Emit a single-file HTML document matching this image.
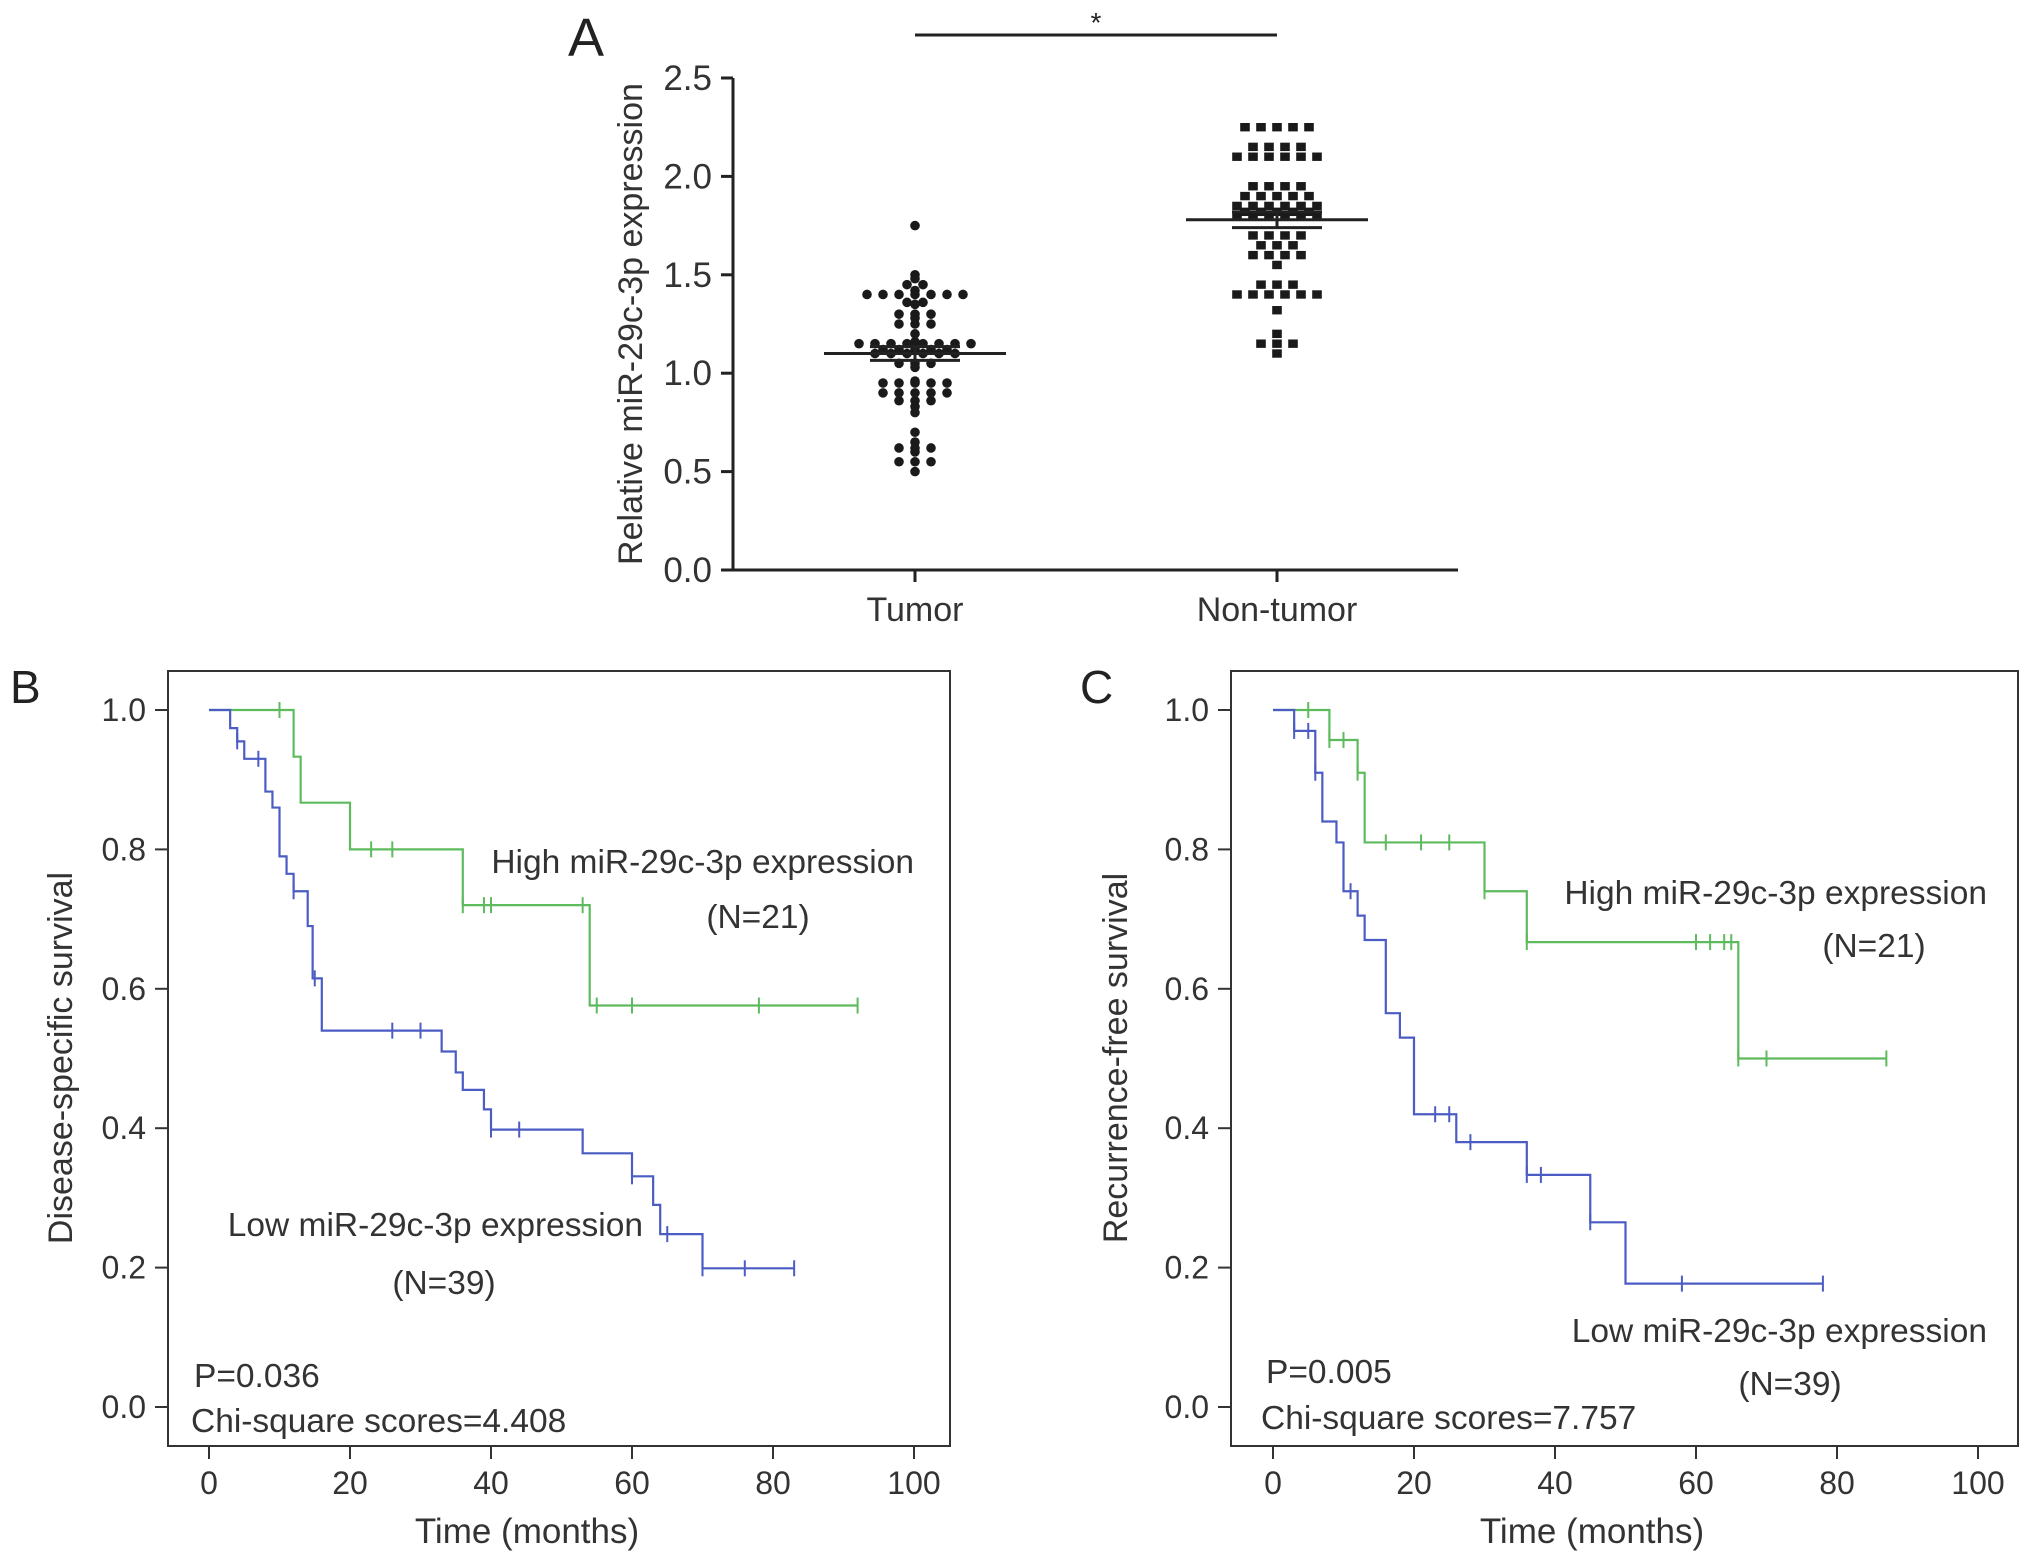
<!DOCTYPE html>
<html><head><meta charset="utf-8"><style>
html,body{margin:0;padding:0;background:#fff;}
svg{display:block;font-family:"Liberation Sans",Arial,sans-serif;}
</style></head><body>
<svg id="fig" width="2032" height="1563" viewBox="0 0 2032 1563" xmlns="http://www.w3.org/2000/svg">
<g id="pa"></g>
<g id="pb"></g>
<g id="pc"></g>
</svg>
<script>
// ---- Panel A data ----
const aCategories = ["Tumor", "Non-tumor"];
const aTicks = ["0.0","0.5","1.0","1.5","2.0","2.5"];
const tumorVals = [1.75,1.50,1.48,1.45,1.45,1.42,1.40,1.40,1.40,1.40,1.40,1.40,1.40,1.36,1.36,1.35,1.30,1.30,1.30,1.28,1.25,1.25,1.25,1.20,1.16,
 1.15,1.15,1.15,1.15,1.15,1.15,1.15,1.15,1.12,1.12,1.12,1.12,1.12,1.10,1.10,1.10,1.10,1.10,1.10,1.05,1.05,1.05,1.03,0.96,
 0.95,0.95,0.95,0.95,0.95,0.90,0.90,0.90,0.90,0.90,0.86,0.86,0.86,0.83,0.80,0.70,0.65,0.62,0.62,0.62,0.60,0.55,0.55,0.55,0.50];
const nonTumorVals = [2.25,2.25,2.25,2.25,2.25,2.15,2.15,2.15,2.15,2.10,2.10,2.10,2.10,2.10,2.10,
 1.95,1.95,1.95,1.95,1.90,1.90,1.90,1.90,1.90,1.85,1.85,1.85,1.85,1.85,1.85,1.82,1.82,1.82,1.82,1.82,
 1.80,1.80,1.80,1.80,1.80,1.80,1.70,1.70,1.70,1.70,1.65,1.65,1.65,1.60,1.60,1.60,1.60,1.55,
 1.45,1.45,1.45,1.40,1.40,1.40,1.40,1.40,1.40,1.32,1.20,1.15,1.15,1.15,1.10];
const aMeans = [1.10, 1.78];
const aSem = [0.035, 0.04];

// ---- Panel B data ----
const bHighT = [0,12,13,20,36,54,92];
const bHighS = [1.0,0.933,0.867,0.80,0.72,0.576,0.576];
const bHighCens = [10,23,26,36,39,40,53,55,60,78,92];
const bLowT = [0,3,4,5,8,9,10,11,12,13,14,14.7,16,33,35,36,39,40,53,60,63,64,70,83];
const bLowS = [1.0,0.974,0.955,0.93,0.883,0.86,0.79,0.765,0.74,0.74,0.69,0.615,0.54,0.51,0.48,0.455,0.427,0.398,0.364,0.331,0.29,0.248,0.199,0.199];
const bLowCens = [4,7,12,15,26,30,40,44,60,65,70,76,83];
// ---- Panel C data ----
const cHighT = [0,8,12,13,30,36,66,87];
const cHighS = [1.0,0.957,0.91,0.81,0.74,0.667,0.50,0.50];
const cHighCens = [5,8,10,12,16,21,25,30,36,60,62,64,65,66,70,87];
const cLowT = [0,3,6,7,9,10,12,13,16,18,20,26,36,45,50,78];
const cLowS = [1.0,0.97,0.91,0.84,0.81,0.74,0.705,0.67,0.565,0.53,0.42,0.38,0.333,0.265,0.177,0.177];
const cLowCens = [3,5,6,11,23,25,28,36,38,45,58,78];
const kmXTicks = [0,20,40,60,80,100];
const kmYTicks = [0.0,0.2,0.4,0.6,0.8,1.0];

const NS="http://www.w3.org/2000/svg";
function mk(parent, tag, attrs, text){
  const e=document.createElementNS(NS,tag);
  for(const k in attrs) e.setAttribute(k,attrs[k]);
  if(text!==undefined) e.textContent=text;
  parent.appendChild(e); return e;
}
const BLACK="#222";
// ---------- Panel A ----------
(function(){
  const g=document.getElementById('pa');
  const x0=733, yB=570, yT=78, xEnd=1458;
  const y=v=>yB-(v/2.5)*(yB-yT);
  const cx=[915,1277];
  let e=mk(g,'text',{x:586,y:56,'font-size':54,fill:BLACK,'text-anchor':'middle'},'A');
  
  
  e=mk(g,'line',{x1:x0,y1:yB,x2:x0,y2:yT,stroke:BLACK,'stroke-width':3});
  
  
  e=mk(g,'line',{x1:x0-2,y1:yB,x2:xEnd,y2:yB,stroke:BLACK,'stroke-width':3});
  
  
  aTicks.forEach(t=>{
    const yy=y(parseFloat(t));
    let l=mk(g,'line',{x1:x0-12,y1:yy,x2:x0,y2:yy,stroke:BLACK,'stroke-width':3});
    
    
    let tx=mk(g,'text',{x:712,y:yy+12,'font-size':35,fill:'#333','text-anchor':'end'},t);
    
    
  });
  aCategories.forEach((c,i)=>{
    let l=mk(g,'line',{x1:cx[i],y1:yB,x2:cx[i],y2:yB+12,stroke:BLACK,'stroke-width':3});
    
    
    let tx=mk(g,'text',{x:cx[i],y:621,'font-size':34,fill:'#333','text-anchor':'middle'},c);
    
    
  });
  e=mk(g,'text',{x:0,y:0,'font-size':34,fill:'#333','text-anchor':'middle',transform:'translate(642,324) rotate(-90)'},'Relative miR-29c-3p expression');
  
  
  e=mk(g,'line',{x1:cx[0],y1:35,x2:cx[1],y2:35,stroke:BLACK,'stroke-width':3});
  
  
  e=mk(g,'text',{x:(cx[0]+cx[1])/2,y:32,'font-size':28,fill:BLACK,'text-anchor':'middle'},'*');
  
  
  [tumorVals,nonTumorVals].forEach((vals,gi)=>{
    const groups={};
    vals.forEach(v=>{const k=v.toFixed(2);(groups[k]=groups[k]||[]).push(v);});
    Object.keys(groups).forEach(k=>{
      const n=groups[k].length;
      groups[k].forEach((v,j)=>{
        const px=cx[gi]+(j-(n-1)/2)*16;
        const py=y(v);
        let m;
        if(gi===0){ m=mk(g,'circle',{cx:px,cy:py,r:4.8,fill:'#1a1a1a'});  }
        else { m=mk(g,'rect',{x:px-4.8,y:py-4.2,width:9.6,height:8.4,fill:'#1a1a1a'});  }
        
      });
    });
    const ym=y(aMeans[gi]);
    let l=mk(g,'line',{x1:cx[gi]-91,y1:ym,x2:cx[gi]+91,y2:ym,stroke:BLACK,'stroke-width':3});
    
    
    [aMeans[gi]+aSem[gi],aMeans[gi]-aSem[gi]].forEach(v=>{
      let s=mk(g,'line',{x1:cx[gi]-45,y1:y(v),x2:cx[gi]+45,y2:y(v),stroke:BLACK,'stroke-width':3});
      
      
    });
    let s=mk(g,'line',{x1:cx[gi],y1:y(aMeans[gi]+aSem[gi]),x2:cx[gi],y2:y(aMeans[gi]-aSem[gi]),stroke:BLACK,'stroke-width':3});
    
    
  });
})();

// ---------- KM panels ----------
function km(gid, o){
  const g=document.getElementById(gid);
  const X=v=>o.x0+(v/100)*(o.x100-o.x0);
  const Y=v=>1407-v*(1407-710);
  let e=mk(g,'rect',{x:o.bx1,y:671,width:o.bx2-o.bx1,height:1446-671,fill:'none',stroke:'#333','stroke-width':2});
  
  
  e=mk(g,'text',{x:o.lx,y:703,'font-size':46,fill:BLACK},o.label);
  
  
  kmXTicks.forEach(t=>{
    let l=mk(g,'line',{x1:X(t),y1:1446,x2:X(t),y2:1459,stroke:'#333','stroke-width':2});
    
    
    let tx=mk(g,'text',{x:X(t),y:1494,'font-size':32,fill:'#333','text-anchor':'middle'},String(t));
    
    
  });
  kmYTicks.forEach(t=>{
    let l=mk(g,'line',{x1:o.bx1-13,y1:Y(t),x2:o.bx1,y2:Y(t),stroke:'#333','stroke-width':2});
    
    
    let tx=mk(g,'text',{x:o.bx1-22,y:Y(t)+11,'font-size':32,fill:'#333','text-anchor':'end'},t.toFixed(1));
    
    
  });
  e=mk(g,'text',{x:o.xtx,y:1543,'font-size':35,fill:'#333','text-anchor':'middle'},'Time (months)');
  
  
  e=mk(g,'text',{x:0,y:0,'font-size':34,fill:'#333','text-anchor':'middle',transform:`translate(${o.ytx},1058) rotate(-90)`},o.ytitle);
  
  
  o.series.forEach(s=>{
    let d=`M${X(s.t[0])},${Y(s.s[0])}`;
    for(let i=1;i<s.t.length;i++){ d+=` H${X(s.t[i])} V${Y(s.s[i])}`; }
    let p=mk(g,'path',{d:d,fill:'none',stroke:s.c,'stroke-width':2.2});
    
    
    s.cens.forEach(ct=>{
      let idx=0; for(let i=0;i<s.t.length;i++){ if(s.t[i]<=ct) idx=i; }
      const yy=Y(s.s[idx]);
      let m=mk(g,'line',{x1:X(ct),y1:yy-8,x2:X(ct),y2:yy+8,stroke:s.c,'stroke-width':2});
      
      
    });
  });
  o.texts.forEach(t=>{
    let tx=mk(g,'text',{x:t[0],y:t[1],'font-size':33.5,fill:'#333','text-anchor':t[3]||'start'},t[2]);
    
    
  });
}
const GREEN="#5dbb5d", BLUE="#4b5cc4";
km('pb',{x0:209,x100:914,bx1:168,bx2:950,lx:10,label:'B',ytx:72,xtx:527,ytitle:'Disease-specific survival',
  series:[{name:'high-expression',t:bHighT,s:bHighS,cens:bHighCens,c:GREEN},{name:'low-expression',t:bLowT,s:bLowS,cens:bLowCens,c:BLUE}],
  texts:[[914,873,'High miR-29c-3p expression','end'],[758,928,'(N=21)','middle'],[643,1236,'Low miR-29c-3p expression','end'],[444,1294,'(N=39)','middle'],[194,1387,'P=0.036'],[191,1432,'Chi-square scores=4.408']]});
km('pc',{x0:1273,x100:1978,bx1:1231,bx2:2018,lx:1080,label:'C',ytx:1127,xtx:1592,ytitle:'Recurrence-free survival',
  series:[{name:'high-expression',t:cHighT,s:cHighS,cens:cHighCens,c:GREEN},{name:'low-expression',t:cLowT,s:cLowS,cens:cLowCens,c:BLUE}],
  texts:[[1987,904,'High miR-29c-3p expression','end'],[1874,957,'(N=21)','middle'],[1987,1342,'Low miR-29c-3p expression','end'],[1790,1395,'(N=39)','middle'],[1266,1383,'P=0.005'],[1261,1429,'Chi-square scores=7.757']]});
</script>
</body></html>
